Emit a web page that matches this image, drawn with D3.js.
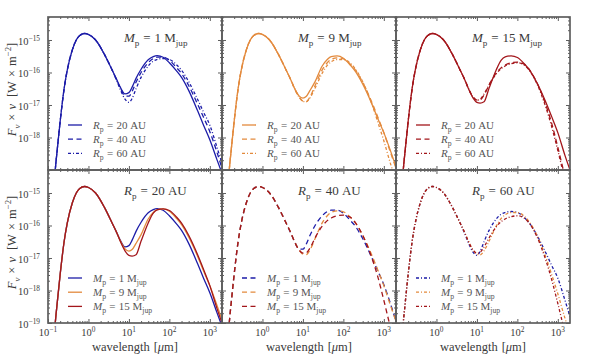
<!DOCTYPE html>
<html>
<head>
<meta charset="utf-8">
<script src="https://cdn.jsdelivr.net/npm/d3@7"></script>
<style>
  body { margin: 0; background: #fff; }
  text { font-family: "Liberation Serif", "DejaVu Serif", serif; }
</style>
</head>
<body>
<svg id="chart" width="600" height="360"></svg>
<script>
// stellar part, common to every model (log10 of F_nu * nu in W m^-2)
var lamStar = [0.13, 0.15, 0.17, 0.2, 0.25, 0.3, 0.4, 0.5, 0.6, 0.8, 1.0, 1.5, 2.5, 4];
var logFStar = [-20.3, -19.05, -18.35, -17.5, -16.5, -15.92, -15.3, -15.0, -14.87, -14.8, -14.83, -15.0, -15.45, -15.97];

// disk part, one array per (planet mass, planet radius)
var lamDisk = [5, 6, 8, 10, 12, 15, 20, 30, 40, 50, 70, 100, 150, 200, 300, 500, 700, 1000, 1500, 2000];
var logF_M1_R20  = [-16.22, -16.43, -16.66, -16.62, -16.45, -16.18, -15.9, -15.61, -15.51, -15.48, -15.53, -15.7, -15.95, -16.15, -16.55, -17.18, -17.62, -18.07, -18.68, -19.1];
var logF_M1_R40  = [-16.23, -16.45, -16.72, -16.73, -16.58, -16.3, -16.0, -15.7, -15.57, -15.53, -15.53, -15.62, -15.85, -16.03, -16.4, -16.98, -17.38, -17.82, -18.45, -18.95];
var logF_M1_R60  = [-16.25, -16.5, -16.82, -16.92, -16.8, -16.5, -16.15, -15.8, -15.65, -15.6, -15.57, -15.6, -15.76, -15.93, -16.28, -16.83, -17.22, -17.62, -18.3, -18.8];
var logF_M9_R20  = [-16.22, -16.45, -16.72, -16.79, -16.74, -16.55, -16.28, -15.8, -15.6, -15.51, -15.49, -15.56, -15.78, -15.97, -16.35, -16.95, -17.4, -17.85, -18.45, -18.9];
var logF_M9_R40  = [-16.22, -16.45, -16.75, -16.88, -16.9, -16.75, -16.4, -15.92, -15.7, -15.6, -15.55, -15.58, -15.75, -15.93, -16.3, -16.9, -17.35, -17.85, -18.5, -18.95];
var logF_M9_R60  = [-16.22, -16.45, -16.75, -16.88, -16.9, -16.78, -16.48, -16.02, -15.78, -15.67, -15.6, -15.6, -15.72, -15.9, -16.28, -16.95, -17.5, -18.1, -18.85, -19.3];
var logF_M15_R20 = [-16.22, -16.46, -16.78, -16.92, -16.94, -16.9, -16.48, -15.92, -15.62, -15.52, -15.49, -15.54, -15.74, -15.93, -16.3, -16.9, -17.35, -17.85, -18.55, -19.0];
var logF_M15_R40 = [-16.22, -16.46, -16.75, -16.85, -16.84, -16.69, -16.38, -16.02, -15.85, -15.77, -15.7, -15.68, -15.75, -15.92, -16.3, -16.98, -17.55, -18.3, -19.2, -19.8];
var logF_M15_R60 = [-16.22, -16.46, -16.75, -16.85, -16.82, -16.66, -16.38, -16.04, -15.88, -15.8, -15.73, -15.7, -15.78, -15.94, -16.33, -17.05, -17.65, -18.4, -19.3, -19.9];

var masses = ["1", "9", "15"];
var radii = ["20", "40", "60"];
var massColors = ["#1c1ca8", "#e38a3d", "#a3161b"];
var radiusDash = [null, "5,3.5", "3,2,1,2"];
var xTickValues = [0.1, 1, 10, 100, 1000];
var yTickValues = [1e-15, 1e-16, 1e-17, 1e-18, 1e-19];

var models = [
  [logF_M1_R20, logF_M1_R40, logF_M1_R60],
  [logF_M9_R20, logF_M9_R40, logF_M9_R60],
  [logF_M15_R20, logF_M15_R40, logF_M15_R60]
];

var svg = d3.select("#chart");
var padLeft = 48, padTop = 17, pw = 174, ph = 153;
var axisColor = "#5e5e5e", textColor = "#3a3a3a";

var x = d3.scaleLog().domain([0.1, 2000]).range([0, pw]);
var y = d3.scaleLog().domain([1e-19, 5.1e-15]).range([ph, 0]);

var line = d3.line()
  .x(function(d) { return x(d[0]); })
  .y(function(d) { return y(d[1]); })
  .curve(d3.curveMonotoneX);

function points(logDisk) {
  var lam = lamStar.concat(lamDisk);
  var f = logFStar.concat(logDisk);
  return lam.map(function(l, i) { return [l, Math.pow(10, f[i])]; });
}

// text with italic / sub / sup pieces; p[2] is an extra gap before the piece
function rich(sel, parts, fs) {
  var shift = 0;
  parts.forEach(function(p) {
    var ts = sel.append("tspan").text(p[0]);
    var st = p[1] || "";
    var target = 0;
    if (st.indexOf("sub") >= 0) { target = fs * 0.28; ts.attr("font-size", fs * 0.7); }
    if (st.indexOf("sup") >= 0) { target = -fs * 0.42; ts.attr("font-size", fs * 0.7); }
    if (st.indexOf("i") === 0) ts.attr("font-style", "italic");
    if (target !== shift) { ts.attr("dy", target - shift); shift = target; }
    if (p[2]) ts.attr("dx", p[2]);
  });
}

function eqLabel(sym, value, unit, fs) {
  var gap = fs * 0.3;
  var parts = [[sym, "i"], ["p", "sub"], ["=", "", gap], [value, "", gap]];
  if (unit === "jup") return parts.concat([["M", "", fs * 0.25], ["jup", "sub"]]);
  return parts.concat([["AU", "", fs * 0.25]]);
}

function minorTicks(domain) {
  var out = [];
  for (var e = -20; e <= 4; e++) {
    for (var k = 2; k <= 9; k++) {
      var v = k * Math.pow(10, e);
      if (v > domain[0] && v < domain[1]) out.push(v);
    }
  }
  return out;
}

var defs = svg.append("defs");
defs.append("clipPath").attr("id", "clip")
  .append("rect").attr("width", pw).attr("height", ph);

function drawPanel(col, row, curves, title, legend) {
  var g = svg.append("g").attr("transform", "translate(" + (padLeft + col * pw) + "," + (padTop + row * ph) + ")");

  var plot = g.append("g").attr("clip-path", "url(#clip)");
  curves.forEach(function(c) {
    plot.append("path")
      .attr("d", line(points(c.data)))
      .attr("fill", "none")
      .attr("stroke", c.color)
      .attr("stroke-width", 1.3)
      .attr("stroke-dasharray", c.dash);
  });

  // ticks inward on all four sides
  var xMinor = minorTicks(x.domain()), yMinor = minorTicks(y.domain());
  var axes = [
    [d3.axisBottom, x, "translate(0," + ph + ")", xTickValues, xMinor],
    [d3.axisTop, x, null, xTickValues, xMinor],
    [d3.axisLeft, y, null, yTickValues, yMinor],
    [d3.axisRight, y, "translate(" + pw + ",0)", yTickValues, yMinor]
  ];
  axes.forEach(function(a) {
    [[a[3], -4], [a[4], -2]].forEach(function(t) {
      var ax = g.append("g")
        .call(a[0](a[1]).tickValues(t[0]).tickSize(t[1]).tickFormat(""));
      if (a[2]) ax.attr("transform", a[2]);
      ax.select(".domain").remove();
      ax.selectAll("line").attr("stroke", axisColor).attr("stroke-width", 1);
    });
  });

  g.append("rect").attr("width", pw).attr("height", ph)
    .attr("fill", "none").attr("stroke", axisColor).attr("stroke-width", 1.7);

  var t = g.append("text").attr("x", 76).attr("y", 25)
    .attr("font-size", 13).attr("fill", textColor);
  rich(t, title, 13);

  legend.forEach(function(l, i) {
    var ly = 108 + i * 14.2;
    g.append("line").attr("x1", 20).attr("x2", 34).attr("y1", ly).attr("y2", ly)
      .attr("stroke", curves[i].color).attr("stroke-width", 1.3)
      .attr("stroke-dasharray", curves[i].dash);
    var lt = g.append("text").attr("x", 45).attr("y", ly + 4)
      .attr("font-size", 11).attr("fill", "#555");
    rich(lt, l, 11);
  });

  // y tick labels on the first column
  if (col === 0) {
    yTickValues.forEach(function(v) {
      if (row === 0 && v === 1e-19) return;
      var e = Math.round(Math.log10(v));
      var yt = g.append("text").attr("x", -8).attr("y", y(v) + 5)
        .attr("text-anchor", "end").attr("font-size", 10.5).attr("fill", textColor);
      rich(yt, [["10"], ["\u2212" + (-e), "sup"]], 10.5);
    });
  }
  // x tick labels and axis label on the bottom row
  if (row === 1) {
    xTickValues.forEach(function(v) {
      if (col > 0 && v === 0.1) return;
      var e = Math.round(Math.log10(v));
      var xt = g.append("text").attr("x", x(v)).attr("y", ph + 13)
        .attr("text-anchor", "middle").attr("font-size", 10.5).attr("fill", textColor);
      rich(xt, [["10"], [(e < 0 ? "\u2212" + (-e) : String(e)), "sup"]], 10.5);
    });
    var xl = g.append("text").attr("x", pw / 2).attr("y", ph + 28)
      .attr("text-anchor", "middle").attr("font-size", 12.5).attr("fill", textColor);
    rich(xl, [["wavelength"], ["[", "", 4], ["\u03bc", "i"], ["m]"]], 12.5);
  }
}

// top row: one panel per planet mass, curves per radius
masses.forEach(function(m, mi) {
  var curves = radii.map(function(r, ri) {
    return { data: models[mi][ri], color: massColors[mi], dash: radiusDash[ri] };
  });
  var legend = radii.map(function(r) { return eqLabel("R", r, "AU", 11); });
  drawPanel(mi, 0, curves, eqLabel("M", m, "jup", 13), legend);
});

// bottom row: one panel per planet radius, curves per mass
radii.forEach(function(r, ri) {
  var curves = masses.map(function(m, mi) {
    return { data: models[mi][ri], color: massColors[mi], dash: radiusDash[ri] };
  });
  var legend = masses.map(function(m) { return eqLabel("M", m, "jup", 11); });
  drawPanel(ri, 1, curves, eqLabel("R", r, "AU", 13), legend);
});

// shared y axis labels
[0, 1].forEach(function(row) {
  var yl = svg.append("text")
    .attr("transform", "translate(16," + (padTop + row * ph + ph / 2 - 4) + ") rotate(-90)")
    .attr("text-anchor", "middle").attr("font-size", 12.5).attr("fill", textColor);
  rich(yl, [["F", "i"], ["\u03bd", "isub"], ["\u00d7", "", 4], ["\u03bd", "i", 4],
            ["[W", "", 7], ["\u00d7", "", 4], ["m", "", 4], ["\u22122", "sup"], ["]"]], 12.5);
});
</script>
</body>
</html>
